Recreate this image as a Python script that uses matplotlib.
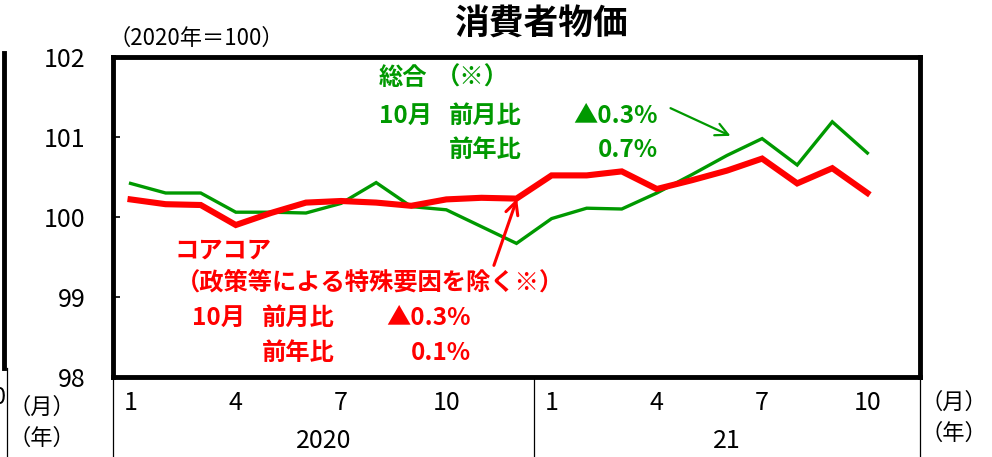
import matplotlib
matplotlib.use('Agg')
import matplotlib.pyplot as plt
from matplotlib.lines import Line2D
import matplotlib.transforms as mtransforms

plt.rcParams['font.family'] = ['Noto Sans CJK JP', 'DejaVu Sans']

# Monthly index, 2020/1 - 2021/10 (2020 = 100)
months = [1, 2, 3, 4, 5, 6, 7, 8, 9, 10, 11, 12,
          1, 2, 3, 4, 5, 6, 7, 8, 9, 10]
years = ['2020', '21']
headline = [100.42, 100.30, 100.30, 100.06, 100.06, 100.05, 100.17, 100.43, 100.13, 100.09, 99.88, 99.67,
            99.98, 100.11, 100.10, 100.30, 100.53, 100.77, 100.98, 100.65, 101.19, 100.80]
corecore = [100.22, 100.16, 100.15, 99.90, 100.05, 100.18, 100.20, 100.18, 100.14, 100.22, 100.24, 100.23,
            100.52, 100.52, 100.57, 100.35, 100.46, 100.58, 100.73, 100.42, 100.61, 100.30]
yticks = [98, 99, 100, 101, 102]

GREEN = '#009900'
RED = '#ff0000'

W, H = 992, 457
fig = plt.figure(figsize=(W / 100, H / 100), dpi=100)
ax = fig.add_axes([113 / W, 1 - 377 / H, (920 - 113) / W, (377 - 57) / H])

x = list(range(len(months)))
ax.plot(x, headline, color=GREEN, lw=2.4, solid_joinstyle='miter', zorder=3)
ax.plot(x, corecore, color=RED, lw=4.4, solid_joinstyle='miter', zorder=4)

ax.set_xlim(-0.5, len(months) + 0.5)
ax.set_ylim(98, 102)
ax.set_yticks(yticks)
ax.tick_params(axis='y', direction='in', length=5, width=1.2, labelsize=18, pad=20)
ax.set_xticks([i for i in x if months[i] in (1, 4, 7, 10)])
ax.set_xticklabels([str(months[i]) for i in x if months[i] in (1, 4, 7, 10)])
ax.tick_params(axis='x', length=0, labelsize=18, pad=9)
for s in ax.spines.values():
    s.set_linewidth(3.5)
    s.set_color('black')

# year labels and separators under the axis
trans = mtransforms.blended_transform_factory(ax.transData, ax.transAxes)
n_per_year = 12
ax.text((0 - 0.5 + 11.5) / 2, -0.2, years[0], transform=trans, ha='center', va='center', fontsize=18)
ax.text((11.5 + len(months) + 0.5) / 2, -0.2, years[1], transform=trans, ha='center', va='center', fontsize=18)
for xv in [-0.5, n_per_year - 0.5, len(months) + 0.5]:
    ax.plot([xv, xv], [0, -0.26], transform=trans, color='black', lw=0.9, clip_on=False)

fig.text(920 / W, 1 - 402 / H, '（月）', fontsize=16, va='center', ha='left')
fig.text(920 / W, 1 - 433 / H, '（年）', fontsize=16, va='center', ha='left')

# titles
fig.text(541 / W, 1 - 24 / H, '消費者物価', fontsize=25, fontweight='bold', ha='center', va='center')
fig.text(108 / W, 1 - 38 / H, '（2020年＝100）', fontsize=16, ha='left', va='center')

# annotations (axes fraction)
def af(px, py):
    return ((px - 113) / 807, (377 - py) / 320)

tk = dict(fontsize=17.5, fontweight='bold', transform=ax.transAxes, va='center')
ax.text(*af(379, 78), '総合', color=GREEN, ha='left', **tk)
ax.text(*af(436, 78), '（※）', color=GREEN, ha='left', **tk)
ax.text(*af(379, 116), '10月', color=GREEN, ha='left', **tk)
ax.text(*af(449, 116), '前月比', color=GREEN, ha='left', **tk)
ax.text(*af(658, 116), '▲0.3%', color=GREEN, ha='right', **tk)
ax.text(*af(449, 150), '前年比', color=GREEN, ha='left', **tk)
ax.text(*af(658, 150), '0.7%', color=GREEN, ha='right', **tk)

ax.text(*af(174, 251), 'コアコア', color=RED, ha='left', **tk)
ax.text(*af(176, 283), '（政策等による特殊要因を除く※）', color=RED, ha='left', **tk)
ax.text(*af(192, 318), '10月', color=RED, ha='left', **tk)
ax.text(*af(262, 318), '前月比', color=RED, ha='left', **tk)
ax.text(*af(471, 318), '▲0.3%', color=RED, ha='right', **tk)
ax.text(*af(262, 353), '前年比', color=RED, ha='left', **tk)
ax.text(*af(471, 353), '0.1%', color=RED, ha='right', **tk)

ax.annotate('', xy=af(733, 137), xytext=af(668, 107), xycoords='axes fraction', textcoords='axes fraction',
            arrowprops=dict(arrowstyle='->,head_length=0.9,head_width=0.45', color=GREEN, lw=1.6))
ax.annotate('', xy=af(518, 196), xytext=af(493, 268), xycoords='axes fraction', textcoords='axes fraction',
            arrowprops=dict(arrowstyle='->,head_length=0.9,head_width=0.45', color=RED, lw=2.2))

# remnant of the neighbouring panel at the left edge
fig.add_artist(Line2D([4 / W, 4 / W], [1 - 53 / H, 1 - 368 / H], color='black', lw=3.5))
fig.add_artist(Line2D([7 / W, 7 / W], [1 - 368 / H, 0], color='black', lw=0.9))
fig.text(-7 / W, 1 - 397 / H, '0', fontsize=17, ha='left', va='center')
fig.text(8 / W, 1 - 407 / H, '（月）', fontsize=16, ha='left', va='center')
fig.text(8 / W, 1 - 438 / H, '（年）', fontsize=16, ha='left', va='center')

fig.savefig('out.png', dpi=100)
